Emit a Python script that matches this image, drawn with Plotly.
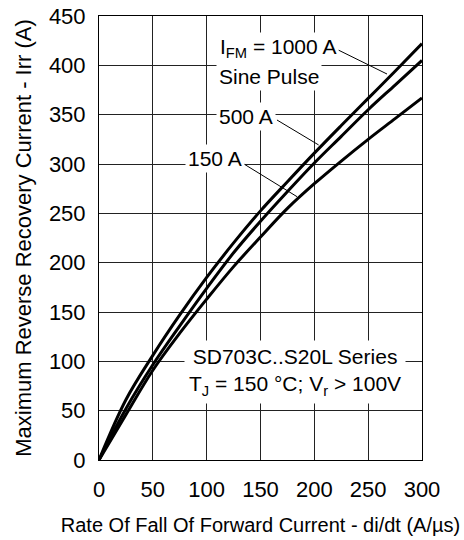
import plotly.graph_objects as go

# Rate of fall of forward current di/dt (A/µs)
di_dt = [0, 25, 50, 75, 100, 125, 150, 175, 200, 225, 250, 275, 300]

# Maximum reverse recovery current Irr (A) for each peak forward current
irr_1000 = [0, 61, 106, 147, 185, 220, 252.5, 282, 311, 339, 366.5, 394, 422]
irr_500 = [0, 52, 96.5, 136, 174, 210, 242, 272, 301, 328, 355, 380, 405]
irr_150 = [0, 46, 91, 128.5, 163, 196, 226, 255, 280, 303, 325, 346, 367]

x_ticks = [0, 50, 100, 150, 200, 250, 300]
y_ticks = [0, 50, 100, 150, 200, 250, 300, 350, 400, 450]

FONT = "Liberation Sans, Arial, sans-serif"

fig = go.Figure()
for ys, name in [(irr_1000, "1000 A"), (irr_500, "500 A"), (irr_150, "150 A")]:
    fig.add_trace(go.Scatter(
        x=di_dt, y=ys, mode="lines", name=name,
        line=dict(color="black", width=3, shape="spline", smoothing=1.0),
        showlegend=False, hoverinfo="skip",
    ))

axis_common = dict(
    showgrid=True, gridcolor="#222", gridwidth=1,
    showline=True, linecolor="black", linewidth=1, mirror=True,
    zeroline=False, ticks="", automargin=False,
    tickfont=dict(family=FONT, size=22, color="black"),
)

fig.update_xaxes(
    range=[0, 300], tickvals=x_ticks, ticklabelstandoff=10,
    title=dict(text="Rate Of Fall Of Forward Current - di/dt (A/µs)",
               font=dict(family=FONT, size=20, color="black"), standoff=16),
    **axis_common,
)
fig.update_yaxes(
    range=[0, 450], tickvals=y_ticks, ticklabelstandoff=8,
    title=dict(text="Maximum Reverse Recovery Current - Irr (A)",
               font=dict(family=FONT, size=22, color="black"), standoff=11),
    **axis_common,
)

# Leader lines from the labels to the curves
leaders = [
    ((222.3, 415.5), (267.5, 391.2)),
    ((165.3, 344.6), (204.0, 319.3)),
    ((131.2, 302.3), (183.9, 266.9)),
]
for (x0, y0), (x1, y1) in leaders:
    fig.add_shape(type="line", x0=x0, y0=y0, x1=x1, y1=y1,
                  line=dict(color="black", width=1))

ann_font = dict(family=FONT, size=21, color="black")
labels = [
    ("I<sub>FM</sub> = 1000 A", 110, 418),
    ("Sine Pulse", 109, 389),
    ("500 A", 109, 348),
    ("150 A", 80, 306),
]
for text, x, y in labels:
    fig.add_annotation(x=x, y=y, text=text, showarrow=False,
                       xanchor="left", yanchor="middle",
                       bgcolor="white", borderpad=2, font=ann_font)

fig.add_annotation(
    x=182, y=89, xanchor="center", yanchor="middle", showarrow=False,
    text="SD703C..S20L Series<br>T<sub>J</sub> = 150 °C; V<sub>r</sub> > 100V",
    bgcolor="white", borderpad=4, font=ann_font,
)

fig.update_layout(
    width=464, height=540,
    margin=dict(l=99, r=42, t=16, b=80),
    paper_bgcolor="white", plot_bgcolor="white",
    font=dict(family=FONT, color="black"),
)

fig.write_html("out.html")
